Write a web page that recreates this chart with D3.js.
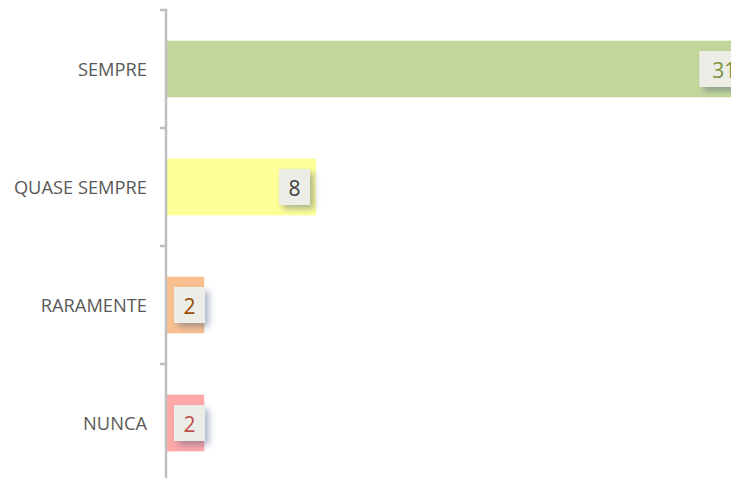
<!DOCTYPE html>
<meta charset="utf-8">
<head>
<script src="https://d3js.org/d3.v7.min.js"></script>
<style>
  body { margin: 0; background: #fff; }
  svg { display: block; }
</style>
</head>
<body>
<svg id="chart"></svg>
<script>
    // data
    var categories = ["SEMPRE", "QUASE SEMPRE", "RARAMENTE", "NUNCA"];
    var values = [31, 8, 2, 2];
    var barColors = ["#c4d79b", "#ffff99", "#fac090", "#ffa8a8"];
    var labelColors = ["#77933c", "#404040", "#984807", "#c0504d"];

    var width = 731, height = 478;
    var svg = d3.select("#chart").attr("width", width).attr("height", height);

    var x0 = 167;
    var x = d3.scaleLinear().domain([0, 8]).range([x0, 316]);
    var y = d3.scaleBand().domain(categories).range([10, 482]).paddingInner(0.52).paddingOuter(0.26);

    // drop shadow for the value boxes
    var defs = svg.append("defs");
    var f = defs.append("filter").attr("id", "shadow")
        .attr("x", "-30%").attr("y", "-30%").attr("width", "170%").attr("height", "170%");
    f.append("feDropShadow").attr("dx", 4).attr("dy", 4).attr("stdDeviation", 3)
        .attr("flood-color", "#3a4a7a").attr("flood-opacity", 0.4);

    // bars
    svg.selectAll("rect.bar").data(values).enter().append("rect")
        .attr("class", "bar")
        .attr("x", x0)
        .attr("y", function(d, i){ return y(categories[i]); })
        .attr("width", function(d){ return x(d) - x0; })
        .attr("height", y.bandwidth())
        .attr("fill", function(d, i){ return barColors[i]; });

    // category axis
    var axis = d3.axisLeft(y).tickSize(6).tickPadding(13);
    var g = svg.append("g").attr("transform", "translate(" + (x0 - 1) + ",0)").call(axis);
    g.select(".domain").attr("stroke", "#bfbfbf").attr("stroke-width", 2.5)
        .attr("d", "M-6,10H0V" + height);
    // ticks sit on band boundaries, not band centres
    var step = y.step();
    g.selectAll(".tick line").remove();
    var bounds = [10, 10 + step, 10 + 2 * step, 10 + 3 * step];
    g.selectAll("line.sep").data(bounds.slice(1)).enter().append("line")
        .attr("x1", -6).attr("x2", 0)
        .attr("y1", function(d){ return d; }).attr("y2", function(d){ return d; })
        .attr("stroke", "#bfbfbf").attr("stroke-width", 2.5);
    g.selectAll(".tick text")
        .attr("fill", "#595959")
        .attr("dy", "0.4em")
        .style("font-family", "'Open Sans', 'Noto Sans', sans-serif")
        .style("font-size", "18.3px");

    // value labels
    var lbl = svg.selectAll("g.lbl").data(values).enter().append("g").attr("class", "lbl");
    lbl.each(function(d, i){
        var s = d3.select(this);
        var t = s.append("text").text(d)
            .attr("fill", labelColors[i])
            .style("font-family", "'Open Sans', 'Noto Sans', sans-serif")
            .style("font-size", "21px")
            .attr("text-anchor", "middle")
            .attr("dominant-baseline", "central");
        var twoDigit = String(d).length > 1;
        var w = twoDigit ? 50 : 31, h = 36;
        var bx = Math.max(x0 + 7, x(d) - 6 - (twoDigit ? 39 : w));
        var cy = y(categories[i]) + y.bandwidth() / 2;
        s.insert("rect", "text")
            .attr("x", bx).attr("y", cy - h / 2)
            .attr("width", w).attr("height", h)
            .attr("fill", "#edede8")
            .attr("filter", "url(#shadow)");
        t.attr("x", bx + w / 2).attr("y", cy + 1);
    });
</script>
</body>
